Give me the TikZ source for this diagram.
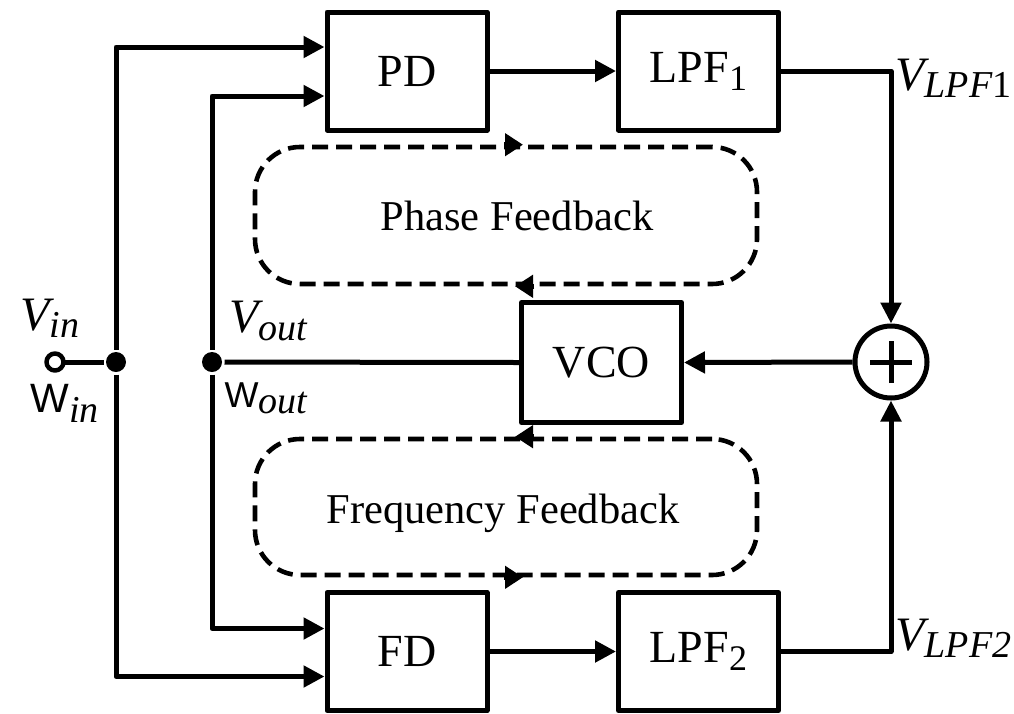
\documentclass[tikz,border=0pt]{standalone}
\usepackage{fontspec}
\setmainfont{Liberation Serif}
\newfontfamily\wfont{Liberation Sans}
\usetikzlibrary{arrows.meta}
\begin{document}
\begin{tikzpicture}[x=1pt,y=-1pt,line width=5pt,line join=round,
  blk/.style={draw,minimum width=160pt,minimum height=118pt,inner sep=0pt,
    font=\fontsize{46}{50}\selectfont},
  loopbox/.style={draw,line width=4.6pt,dash pattern=on 16pt off 8pt,rounded corners=45pt,
    minimum width=502pt,inner sep=0pt},
  looptxt/.style={anchor=base,inner sep=0pt,font=\fontsize{42.5}{46}\selectfont},
  lbl/.style={anchor=base west,inner sep=0pt,font=\fontsize{48}{52}\selectfont},
  sig/.style={-{Triangle[length=21pt,width=21pt]}},
  sumin/.style={-{Triangle[length=21pt,width=20pt]}},
  looptip/.style={solid,-{Triangle[length=18pt,width=22pt]}},
  dot/.style={circle,fill,inner sep=0pt,minimum size=20pt},
  port/.style={circle,draw,fill=white,line width=4.5pt,inner sep=0pt,minimum size=17pt}]
\useasboundingbox (0,0) rectangle (1014,713);

% blocks
\node[blk] (pd)   at (407,71)    {PD};
\node[blk] (lpf1) at (698.5,71)  {LPF\raisebox{-8pt}{\fontsize{36}{36}\selectfont 1}};
\node[blk,minimum height=120pt] (vco) at (601.5,362.5) {VCO};
\node[blk] (fd)   at (407,651.5) {FD};
\node[blk] (lpf2) at (698.5,651.5) {LPF\raisebox{-8pt}{\fontsize{36}{36}\selectfont 2}};

% summing junction
\node[circle,draw,minimum size=72pt,inner sep=0pt] (sum) at (891,362) {};
\draw ([xshift=-21pt]sum.center) -- ([xshift=21pt]sum.center);
\draw ([yshift=-21pt]sum.center) -- ([yshift=21pt]sum.center);

% input port and branch points
\node[dot] (j1) at (116,362) {};
\node[dot] (j2) at (212,362) {};
\draw (j1) -- (55,362);
\node[port] (vin) at (55,362) {};

% input and output distribution
\draw[sig] (j1) |- ([yshift=24pt]pd.west);
\draw[sig] (j1) |- ([yshift=-25pt]fd.west);
\draw[sig] (j2) |- ([yshift=-25pt]pd.west);
\draw[sig] (j2) |- ([yshift=23pt]fd.west);

% forward paths
\draw[sig] (pd) -- (lpf1);
\draw[sig] (fd) -- (lpf2);
\draw[sumin] (lpf1.east) -| (sum.north);
\draw[sumin] (lpf2.east) -| (sum.south);
\draw[sig] (sum.west) -- (vco.east);
\draw (vco.west) -- (j2);

% feedback loops
\node[loopbox,minimum height=137pt] (pf) at (506,215.5) {};
\node[loopbox,minimum height=136pt] (ff) at (506,507) {};
\draw[looptip] ([xshift=-2pt]pf.north) -- ([xshift=17pt]pf.north);
\draw[looptip] ([xshift=28pt]pf.south) -- ([xshift=9pt]pf.south);
\draw[looptip] ([xshift=28pt]ff.north) -- ([xshift=9pt]ff.north);
\draw[looptip] ([xshift=-2pt]ff.south) -- ([xshift=17pt]ff.south);
\node[looptxt] (pft) at (517,230) {Phase Feedback};
\node[looptxt] (fft) at (503,523) {Frequency Feedback};

% signal labels
\node[lbl] (vinl) at (18,330) {\itshape V\raisebox{-7pt}{\fontsize{38}{40}\selectfont in}};
\node[lbl] (winl) at (28,412) {\fontsize{38}{40}\selectfont{\wfont\fontsize{41}{42}\selectfont W}\raisebox{-10pt}{\itshape in}};
\node[lbl] (voutl) at (227,332) {\itshape V\raisebox{-8pt}{\fontsize{38}{40}\selectfont out}};
\node[lbl] (woutl) at (222,407) {\fontsize{38}{40}\selectfont{\wfont\fontsize{36}{38}\selectfont W}\raisebox{-6pt}{\itshape out}};
\node[lbl] (vl1) at (893,90) {\itshape V\raisebox{-7pt}{\fontsize{38}{40}\selectfont LPF\upshape 1}};
\node[lbl] (vl2) at (893,650) {\itshape V\raisebox{-7pt}{\fontsize{38}{40}\selectfont LPF2}};
\end{tikzpicture}
\end{document}
